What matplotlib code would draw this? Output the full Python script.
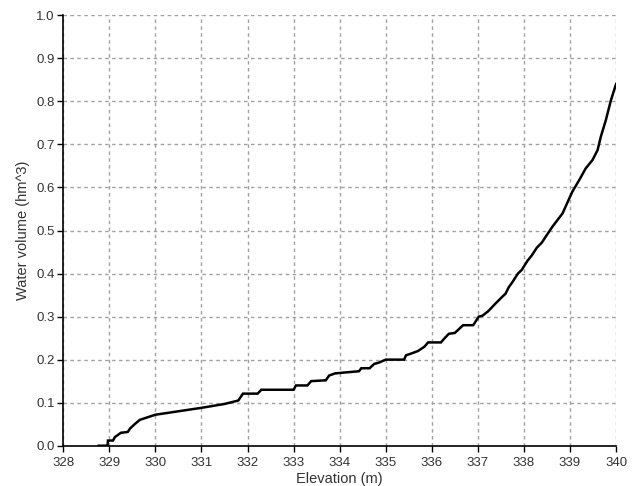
import matplotlib
matplotlib.use("Agg")
import matplotlib.pyplot as plt

elevation = [328.77, 328.96, 328.97, 329.08, 329.12, 329.25, 329.40, 329.45, 329.55,
             329.66, 329.8, 330.0, 330.5, 331.0, 331.5, 331.8, 331.9, 332.22, 332.3,
             333.0, 333.05, 333.3, 333.38, 333.7, 333.77, 333.9, 334.1, 334.42, 334.47,
             334.65, 334.75, 334.85, 335.0, 335.4, 335.44, 335.55, 335.7, 335.84, 335.92,
             336.2, 336.28, 336.37, 336.5, 336.6, 336.68, 336.9, 336.96, 337.02, 337.1,
             337.23, 337.38, 337.52, 337.6, 337.67, 337.75, 337.87, 337.95, 338.08,
             338.17, 338.28, 338.39, 338.5, 338.62, 338.84, 339.05, 339.2, 339.34,
             339.49, 339.6, 339.67, 339.78, 339.89, 340.0]
volume = [0, 0, 0.012, 0.012, 0.02, 0.03, 0.032, 0.04, 0.05,
          0.06, 0.065, 0.072, 0.08, 0.088, 0.097, 0.105, 0.121, 0.121, 0.13,
          0.13, 0.14, 0.14, 0.15, 0.152, 0.163, 0.168, 0.17, 0.173, 0.18,
          0.18, 0.19, 0.193, 0.2, 0.2, 0.21, 0.214, 0.22, 0.23, 0.24,
          0.24, 0.25, 0.26, 0.262, 0.272, 0.28, 0.28, 0.29, 0.3, 0.302,
          0.313, 0.33, 0.345, 0.353, 0.368, 0.38, 0.40, 0.408, 0.43,
          0.442, 0.46, 0.472, 0.49, 0.509, 0.54, 0.59, 0.617, 0.644,
          0.664, 0.687, 0.718, 0.757, 0.803, 0.84]

x_ticks = list(range(328, 341))
y_ticks = [i / 10 for i in range(11)]

plt.rcParams['font.family'] = ['Liberation Sans', 'DejaVu Sans']

fig = plt.figure(figsize=(6.36, 4.86), dpi=100)
ax = fig.add_axes([0.0995, 0.0829, 0.8691, 0.8856])

ax.plot(elevation, volume, color='black', lw=1.8, solid_joinstyle='miter', zorder=3)

ax.set_xlim(328, 340)
ax.set_ylim(0, 1.0)
ax.set_xticks(x_ticks)
ax.set_yticks(y_ticks)
ax.set_xticklabels([str(t) for t in x_ticks])
ax.set_yticklabels([f"{t:.1f}" for t in y_ticks])

ax.grid(True, color='#a0a0a0', linestyle=(0, (2.5, 2.5)), linewidth=1)
ax.set_axisbelow(True)

for s in ['top', 'right']:
    ax.spines[s].set_visible(False)
for s in ['left', 'bottom']:
    ax.spines[s].set_color('black')
    ax.spines[s].set_linewidth(1.2)

ax.tick_params(axis='both', direction='out', length=4, width=1, colors='black',
               labelsize=9.5, labelcolor='#333333', pad=2)
ax.tick_params(axis='x', pad=4)

ax.set_xlabel('Elevation (m)', fontsize=10.5, color='#333333', labelpad=2)
ax.set_ylabel('Water volume (hm^3)', fontsize=10.5, color='#333333', labelpad=5)

fig.savefig('out.png', dpi=100)
